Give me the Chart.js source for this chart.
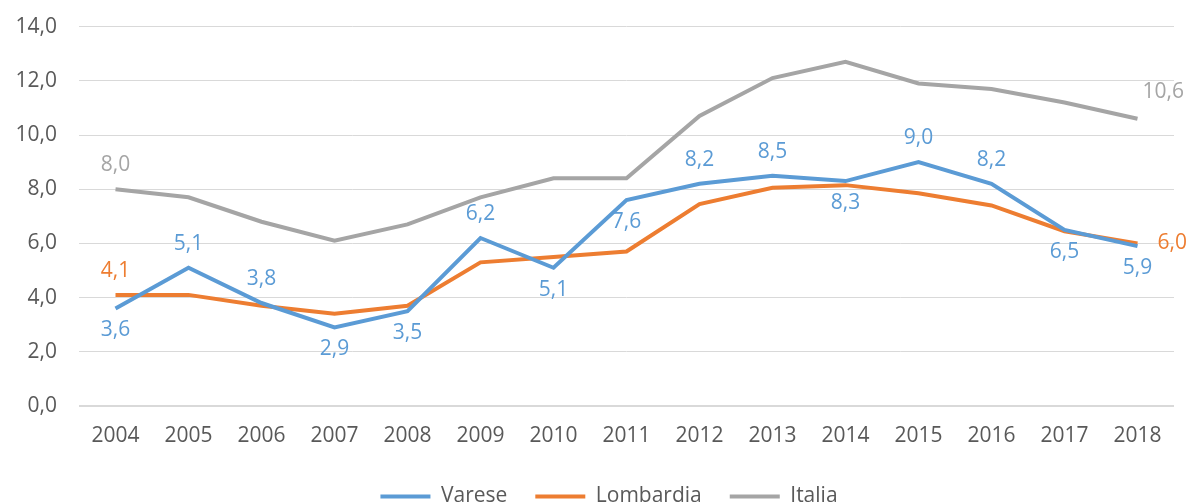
<!DOCTYPE html>
<html>
<head>
<meta charset="utf-8">
<script src="https://cdn.jsdelivr.net/npm/chart.js@4.4.1/dist/chart.umd.min.js"></script>
<style>
body { margin: 0; background: #fff; overflow: hidden; }
#wrap { width: 1186px; height: 525px; margin-top: -8px; position: relative; }
</style>
</head>
<body>
<div id="wrap"><canvas id="chart"></canvas></div>
<script>
const years = ["2004", "2005", "2006", "2007", "2008", "2009", "2010", "2011", "2012", "2013", "2014", "2015", "2016", "2017", "2018"];
const varese = [3.6, 5.1, 3.8, 2.9, 3.5, 6.2, 5.1, 7.6, 8.2, 8.5, 8.3, 9.0, 8.2, 6.5, 5.9];
const lombardia = [4.1, 4.1, 3.7, 3.4, 3.7, 5.3, 5.5, 5.7, 7.45, 8.05, 8.15, 7.85, 7.4, 6.45, 6.0];
const italia = [8.0, 7.7, 6.8, 6.1, 6.7, 7.7, 8.4, 8.4, 10.7, 12.1, 12.7, 11.9, 11.7, 11.2, 10.6];
const yTicks = [0, 2, 4, 6, 8, 10, 12, 14];

// where each value label goes (null = no label)
const vareseLabelPos = ["below", "above", "above", "below", "below", "above", "below", "below", "above", "above", "below", "above", "above", "below", "below"];
const lombardiaLabelPos = ["above", null, null, null, null, null, null, null, null, null, null, null, null, null, "right"];
const italiaLabelPos = ["above", null, null, null, null, null, null, null, null, null, null, null, null, null, "aboveRight"];

const fontFamily = "'Open Sans', 'Noto Sans', sans-serif";

function fmt(v) {
    return v.toFixed(1).replace(".", ",");
}

const valueLabels = {
    id: "valueLabels",
    afterLayout(chart) {
        // legend in the original sits a bit right of centre
        if (chart.legend) {
            chart.legend.left += 22;
            chart.legend.right += 22;
        }
    },
    afterDatasetsDraw(chart) {
        const ctx = chart.ctx;
        ctx.save();
        ctx.font = "21px " + fontFamily;
        ctx.textBaseline = "middle";
        chart.data.datasets.forEach((ds, di) => {
            const meta = chart.getDatasetMeta(di);
            meta.data.forEach((pt, i) => {
                const pos = ds.labelPos[i];
                if (!pos) return;
                let x = pt.x, y = pt.y;
                ctx.textAlign = "center";
                if (pos === "above") y -= 24;
                else if (pos === "below") y += 22;
                else if (pos === "right") { x += 20; ctx.textAlign = "left"; }
                else if (pos === "aboveRight") { x += 5; y -= 27; ctx.textAlign = "left"; }
                ctx.fillStyle = ds.borderColor;
                ctx.fillText(fmt(ds.data[i]), x, y);
            });
        });
        ctx.restore();
    }
};

function makeSet(label, data, color, labelPos) {
    return {
        label: label,
        data: data,
        borderColor: color,
        backgroundColor: color,
        borderWidth: 4,
        pointRadius: 0,
        pointHoverRadius: 0,
        tension: 0,
        fill: false,
        labelPos: labelPos
    };
}

const ctx = document.getElementById("chart").getContext("2d");
new Chart(ctx, {
    type: "line",
    data: {
        labels: years,
        datasets: [
            makeSet("Varese", varese, "#5b9bd5", vareseLabelPos),
            makeSet("Lombardia", lombardia, "#ed7d31", lombardiaLabelPos),
            makeSet("Italia", italia, "#a5a5a5", italiaLabelPos)
        ]
    },
    options: {
        responsive: true,
        maintainAspectRatio: false,
        animation: false,
        layout: { padding: { top: 0, right: 12, left: 0, bottom: 0 } },
        plugins: {
            legend: {
                position: "bottom",
                labels: {
                    usePointStyle: true,
                    pointStyle: "line",
                    pointStyleWidth: 50,
                    padding: 28,
                    color: "#595959",
                    font: { family: fontFamily, size: 21 }
                }
            },
            tooltip: { enabled: false }
        },
        scales: {
            x: {
                offset: true,
                grid: { display: false, drawTicks: false },
                border: { display: false },
                ticks: {
                    color: "#595959",
                    padding: 17,
                    maxRotation: 0,
                    font: { family: fontFamily, size: 21 }
                },
                afterFit(scale) { scale.height = 52; }
            },
            y: {
                min: 0,
                max: 14,
                afterBuildTicks(scale) { scale.ticks = yTicks.map(v => ({ value: v })); },
                grid: {
                    color: "#d9d9d9",
                    lineWidth: c => c.tick && c.tick.value === 0 ? 2 : 1,
                    drawTicks: false
                },
                border: { display: false },
                ticks: {
                    color: "#595959",
                    padding: 22,
                    font: { family: fontFamily, size: 21 },
                    callback: v => fmt(v)
                },
                afterFit(scale) { scale.width = 79; }
            }
        }
    },
    plugins: [valueLabels]
});
</script>
</body>
</html>
